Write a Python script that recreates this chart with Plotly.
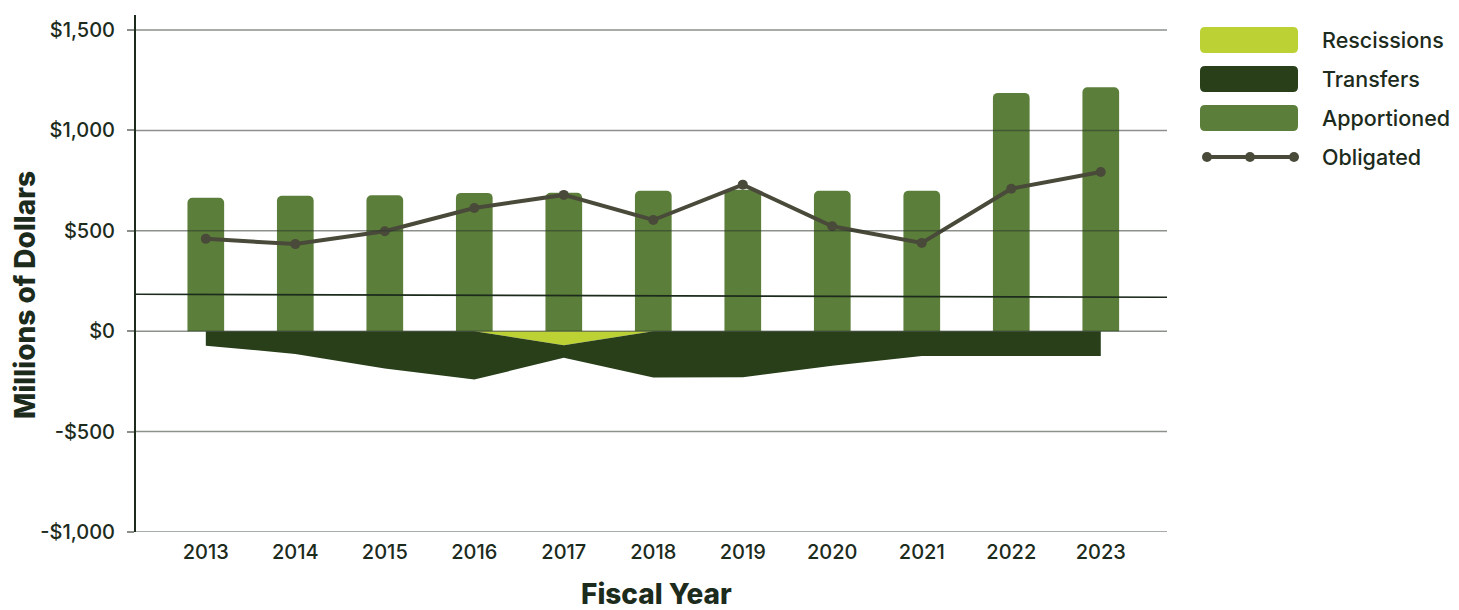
import plotly.graph_objects as go

# ---------------- data ----------------
years = [2013, 2014, 2015, 2016, 2017, 2018, 2019, 2020, 2021, 2022, 2023]
apportioned = [665, 675, 677, 689, 690, 700, 705, 700, 700, 1187, 1215]
obligated = [460, 434, 498, 614, 679, 554, 730, 523, 440, 710, 793]
rescissions = [0, 0, 0, 0, -70, 0, 0, 0, 0, 0, 0]
transfers = [-72, -113, -186, -241, -62, -231, -229, -172, -123, -123, -123]
baseline_years = [2012.22, 2023.74]
baseline_values = [184, 169]
y_tick_vals = [1500, 1000, 500, 0, -500, -1000]
y_tick_text = ["$1,500", "$1,000", "$500", "$0", "-$500", "-$1,000"]
legend_labels = ["Rescissions", "Transfers", "Apportioned", "Obligated"]

# ---------------- style ----------------
C_RESC = "#bcd134"
C_TRAN = "#283f1a"
C_APP = "#5b7f3a"
C_OBL = "#4a4a3a"
C_TEXT = "#1c2b1c"
C_GRID = "rgba(45,55,45,0.55)"
FONT = "Inter, Lato, sans-serif"

OFF = 8  # default page body margin
W_PX, H_PX = 1459 - OFF, 610 - OFF
# plot-area edges in page pixels
L, R, T, B = 136, 1167, 15, 532


def px(x):
    return (x - L) / (R - L)


def py(y):
    return (B - y) / (B - T)


fig = go.Figure()

fig.add_trace(go.Scatter(x=baseline_years, y=baseline_values, mode="lines",
                         line=dict(color=C_TEXT, width=1.6), showlegend=False,
                         hoverinfo="skip"))

fig.add_trace(go.Scatter(x=years, y=rescissions, name=legend_labels[0], mode="lines",
                         stackgroup="neg", line=dict(width=0), fillcolor=C_RESC,
                         showlegend=False))
fig.add_trace(go.Scatter(x=years, y=transfers, name=legend_labels[1], mode="lines",
                         stackgroup="neg", line=dict(width=0), fillcolor=C_TRAN,
                         showlegend=False))

fig.add_trace(go.Bar(x=years, y=apportioned, name=legend_labels[2], width=0.41,
                     marker=dict(color=C_APP, cornerradius=5, line=dict(width=0)),
                     showlegend=False))

fig.add_trace(go.Scatter(x=years, y=obligated, name=legend_labels[3], mode="lines+markers",
                         line=dict(color=C_OBL, width=4),
                         marker=dict(color=C_OBL, size=10), showlegend=False))

shapes = []
for v in y_tick_vals:
    shapes.append(dict(type="line", xref="paper", yref="y", x0=0, x1=1, y0=v, y1=v,
                       line=dict(color=C_GRID, width=1.5), layer="above"))


def rounded_rect(x0, y0, x1, y1, r, color):
    rx = r / (R - L)
    ry = r / (B - T)
    X0, X1 = px(x0), px(x1)
    Y0, Y1 = py(y1), py(y0)
    path = (f"M {X0+rx},{Y0} L {X1-rx},{Y0} Q {X1},{Y0} {X1},{Y0+ry} "
            f"L {X1},{Y1-ry} Q {X1},{Y1} {X1-rx},{Y1} L {X0+rx},{Y1} "
            f"Q {X0},{Y1} {X0},{Y1-ry} L {X0},{Y0+ry} Q {X0},{Y0} {X0+rx},{Y0} Z")
    return dict(type="path", xref="paper", yref="paper", path=path,
                fillcolor=color, line=dict(width=0), layer="above")


LEG_FONT = dict(family=FONT, size=21.5, color=C_TEXT, weight=500)
annotations = []
leg_colors = [C_RESC, C_TRAN, C_APP]
leg_y = [40, 79, 118]
for lab, col, yc in zip(legend_labels[:3], leg_colors, leg_y):
    shapes.append(rounded_rect(1200, yc - 13, 1298, yc + 13, 5, col))
    annotations.append(dict(x=px(1320), y=py(yc), xref="paper", yref="paper",
                            text=lab, showarrow=False, xanchor="left", yanchor="middle",
                            font=LEG_FONT))
oy = 157
shapes.append(dict(type="line", xref="paper", yref="paper", x0=px(1207), x1=px(1294),
                   y0=py(oy), y1=py(oy), line=dict(color=C_OBL, width=4)))
for cx in [1207, 1250, 1294]:
    shapes.append(dict(type="circle", xref="paper", yref="paper",
                       x0=px(cx - 5), x1=px(cx + 5), y0=py(oy + 5), y1=py(oy - 5),
                       fillcolor=C_OBL, line=dict(width=0)))
annotations.append(dict(x=px(1320), y=py(oy), xref="paper", yref="paper",
                        text=legend_labels[3], showarrow=False, xanchor="left",
                        yanchor="middle", font=LEG_FONT))

TITLE_FONT = dict(family=FONT, size=28, color=C_TEXT, weight=800)
annotations.append(dict(x=px(25), y=py(295), xref="paper", yref="paper",
                        text="Millions of Dollars", showarrow=False, textangle=-90,
                        xanchor="center", yanchor="middle", font=TITLE_FONT))
annotations.append(dict(x=px(656), y=py(594), xref="paper", yref="paper",
                        text="Fiscal Year", showarrow=False,
                        xanchor="center", yanchor="middle", font=TITLE_FONT))

TICK_FONT = dict(family=FONT, size=20, color=C_TEXT, weight=500)
fig.update_layout(
    width=W_PX, height=H_PX,
    margin=dict(l=L - OFF, r=(W_PX + OFF) - R, t=T - OFF, b=(H_PX + OFF) - B),
    paper_bgcolor="white", plot_bgcolor="white",
    showlegend=False,
    shapes=shapes, annotations=annotations,
    font=dict(family=FONT, color=C_TEXT),
    xaxis=dict(range=[2012.22, 2023.74], tickmode="array", tickvals=years,
               ticktext=[str(y) for y in years], showgrid=False, zeroline=False,
               showline=False, ticks="", tickfont=TICK_FONT, ticklabelstandoff=6,
               fixedrange=True),
    yaxis=dict(range=[-1000, 1575], tickmode="array", tickvals=y_tick_vals,
               ticktext=y_tick_text, showgrid=False, zeroline=False,
               showline=True, linecolor=C_TEXT, linewidth=2,
               ticks="outside", ticklen=7, tickcolor="#8a8f8a", tickwidth=1.5,
               tickfont=TICK_FONT, ticklabelstandoff=8, fixedrange=True),
)

fig.write_html("out.html")
